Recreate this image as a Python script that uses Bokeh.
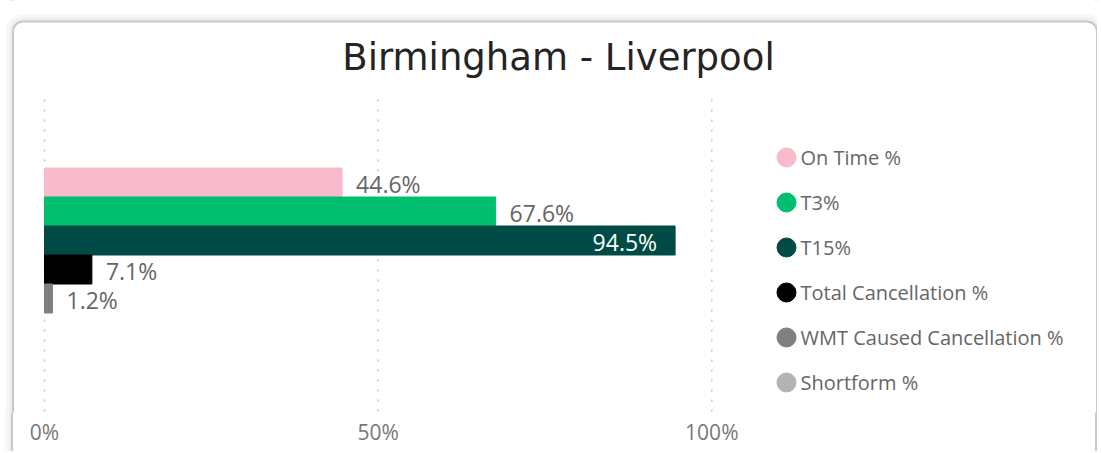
from bokeh.plotting import figure
from bokeh.models import (Range1d, FixedTicker, PrintfTickFormatter, ColumnDataSource,
                          BoxAnnotation)
from bokeh.core.properties import value
from bokeh.embed import file_html
from bokeh.resources import INLINE

# ---------------- data ----------------
chart_title = "Birmingham - Liverpool"
series = ["On Time %", "T3%", "T15%", "Total Cancellation %",
          "WMT Caused Cancellation %", "Shortform %"]
values = [44.6, 67.6, 94.5, 7.1, 1.2, None]
colors = ["#F8BBCB", "#00BF6F", "#004B45", "#000000", "#808080", "#B3B3B3"]
x_ticks = [0, 50, 100]

# ---------------- figure ----------------
W, H = 1097, 451
idx = list(range(len(series)))          # series slot (0 = top)
p = figure(width=W, height=H, output_backend="svg", toolbar_location=None,
           x_range=Range1d(-6.594, 157.8),
           y_range=Range1d(7.931, -6.276),   # reversed so first series sits on top
           min_border_left=0, min_border_right=0,
           min_border_top=0, min_border_bottom=39)

p.outline_line_color = None
p.background_fill_color = "white"
p.border_fill_color = None
# side edges of the card below the plot frame (the frame itself is white)
p.styles = {"background": ("linear-gradient(to right, #ffffff 0px, #ffffff 5.5px, "
                           "#f6f6f6 5.5px, #f6f6f6 9px, #eeeeee 9px, #eeeeee 11.5px, "
                           "#c8c8c8 11.5px, #c8c8c8 13.5px, #ffffff 13.5px, "
                           "#ffffff 1095.5px, #c8c8c8 1095.5px, #c8c8c8 100%)")}

# card outline (rounded, open at the bottom edge of the window)
for off, lw, col in [(4, 6, "#f6f6f6"), (2, 3, "#eeeeee"), (0, 2, "#c8c8c8")]:
    p.add_layout(BoxAnnotation(left=12.5 - off, right=1096.5 + off, top=21 - off, bottom=480,
                               left_units="canvas", right_units="canvas",
                               top_units="canvas", bottom_units="canvas",
                               fill_color=None, line_color=col, line_alpha=1.0,
                               line_width=lw, border_radius=10 + off, level="underlay"))

p.yaxis.visible = False
p.grid.visible = False

p.xaxis.ticker = FixedTicker(ticks=x_ticks)
p.xaxis.formatter = PrintfTickFormatter(format="%d%%")
p.xaxis.axis_line_color = None
p.xaxis.major_tick_line_color = None
p.xaxis.minor_tick_line_color = None
p.xaxis.major_tick_out = 0
p.xaxis.major_tick_in = 0
p.xaxis.minor_tick_out = 0
p.xaxis.major_label_text_font = "Open Sans"
p.xaxis.major_label_text_font_size = "21px"
p.xaxis.major_label_text_color = "#777777"
p.xaxis.major_label_standoff = 5

# dotted value gridlines, spanning the bar area only
grid_top, grid_bottom = -2.862, 7.931
p.segment(x0="x", x1="x", y0=grid_top, y1=grid_bottom,
          source=ColumnDataSource(dict(x=x_ticks)),
          line_color="#c4c4c4", line_dash="2 8", line_width=1.5)

# ---------------- bars ----------------
vals = [float("nan") if v is None else v for v in values]
bar_src = ColumnDataSource(dict(y=idx, value=vals, color=colors))
p.hbar(y="y", left=0, right="value", height=1.0, color="color", source=bar_src)

# ---------------- data labels ----------------
out_y, out_v, out_t, in_y, in_v, in_t = [], [], [], [], [], []
for i, v in zip(idx, values):
    if v is None:
        continue
    lab = f"{v:.1f}%"
    if v > 90:
        in_y.append(i); in_v.append(v); in_t.append(lab)
    else:
        out_y.append(i); out_v.append(v); out_t.append(lab)

p.text(x="x", y="y", text="t", source=ColumnDataSource(dict(x=out_v, y=out_y, t=out_t)),
       x_offset=14, y_offset=1, text_align="left", text_baseline="middle",
       text_font=value("Open Sans"), text_font_size="23px", text_color="#666666")
p.text(x="x", y="y", text="t", source=ColumnDataSource(dict(x=in_v, y=in_y, t=in_t)),
       x_offset=-18, y_offset=1, text_align="right", text_baseline="middle",
       text_font=value("Open Sans"), text_font_size="23px", text_color="#ffffff")

# ---------------- title + legend (pixel-like layout ranges) ----------------
p.extra_x_ranges = {"layout": Range1d(-44, 1053)}
p.extra_y_ranges = {"layout": Range1d(5.667, -3.489)}

p.text(x=[514], y=[-2.222], text=[chart_title], x_range_name="layout", y_range_name="layout",
       text_align="center", text_baseline="alphabetic",
       text_font=value("DejaVu Sans"), text_font_size="37px", text_color="#252423")

leg_src = ColumnDataSource(dict(mx=[742] * len(series), tx=[756] * len(series),
                                y=idx, name=series, color=colors))
p.scatter(x="mx", y="y", source=leg_src, marker="circle", size=19,
          fill_color="color", line_color="color",
          x_range_name="layout", y_range_name="layout")
p.text(x="tx", y="y", text="name", source=leg_src, text_align="left",
       text_baseline="middle", text_font=value("Open Sans"), text_font_size="20px",
       text_color="#666666", x_range_name="layout", y_range_name="layout")

open("out.html", "w").write(file_html(p, INLINE))
